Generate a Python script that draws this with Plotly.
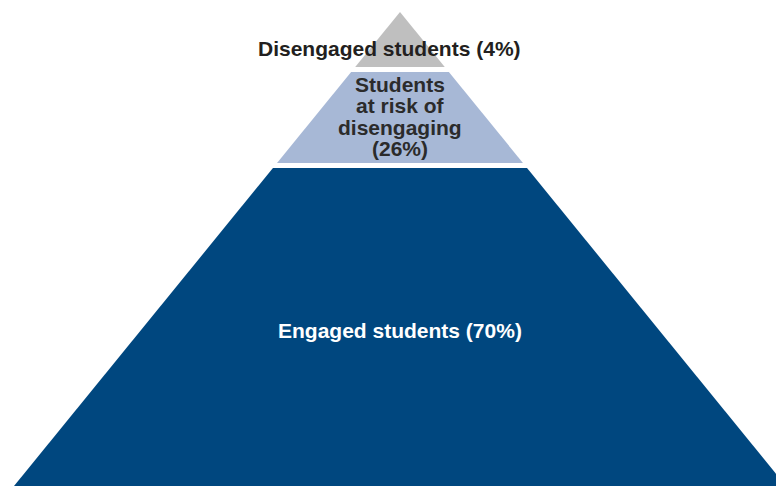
import plotly.graph_objects as go

# Pyramid tiers, top to bottom
tier_names = ["Disengaged students", "Students at risk of disengaging", "Engaged students"]
tier_shares = [4, 26, 70]
tier_colors = ["#BFBFBF", "#A7B8D6", "#00477F"]
tier_text_colors = ["#231F20", "#2B2B2B", "#FFFFFF"]
# vertical extent of each tier (depth below the top edge of the canvas)
tier_top = [12, 72, 168]
tier_bottom = [67, 163, 490]

# how each tier's label is broken into lines
tier_label_lines = [
    ["Disengaged students (4%)"],
    ["Students", "at risk of", "disengaging", "(26%)"],
    ["Engaged students (70%)"],
]

APEX_X, APEX_Y = 400, 12
SLOPE = 0.8143  # half-width growth per unit of depth
LINE_STEP = 21.5
FONT = "Liberation Sans, Arial, Helvetica, sans-serif"


def half_width(y):
    return (y - APEX_Y) * SLOPE


fig = go.Figure()
for name, share, color, top, bottom in zip(tier_names, tier_shares, tier_colors, tier_top, tier_bottom):
    ht, hb = half_width(top), half_width(bottom)
    xs = [APEX_X - ht, APEX_X + ht, APEX_X + hb, APEX_X - hb, APEX_X - ht]
    ys = [top, top, bottom, bottom, top]
    fig.add_trace(go.Scatter(
        x=xs, y=ys, fill="toself", fillcolor=color, mode="lines",
        line=dict(width=0, color=color), hoverinfo="skip", showlegend=False,
        name=f"{name} ({share}%)",
    ))

# centre of the first label line for each tier
label_anchor = [(389, 48), (400, 84), (400, 330)]
label_size = [21, 21, 21]
for lines, tcolor, (lx, ly), size in zip(tier_label_lines, tier_text_colors, label_anchor, label_size):
    for i, line in enumerate(lines):
        fig.add_annotation(
            x=lx, y=ly + i * LINE_STEP, xref="x", yref="y",
            text=f"<b>{line}</b>", showarrow=False,
            xanchor="center", yanchor="middle",
            font=dict(family=FONT, size=size, color=tcolor),
        )

fig.update_layout(
    width=776, height=486,
    margin=dict(l=0, r=0, t=0, b=0),
    paper_bgcolor="white", plot_bgcolor="white",
    xaxis=dict(range=[0, 776], visible=False, fixedrange=True),
    yaxis=dict(range=[486, 0], visible=False, fixedrange=True),
)

fig.write_html("out.html")
